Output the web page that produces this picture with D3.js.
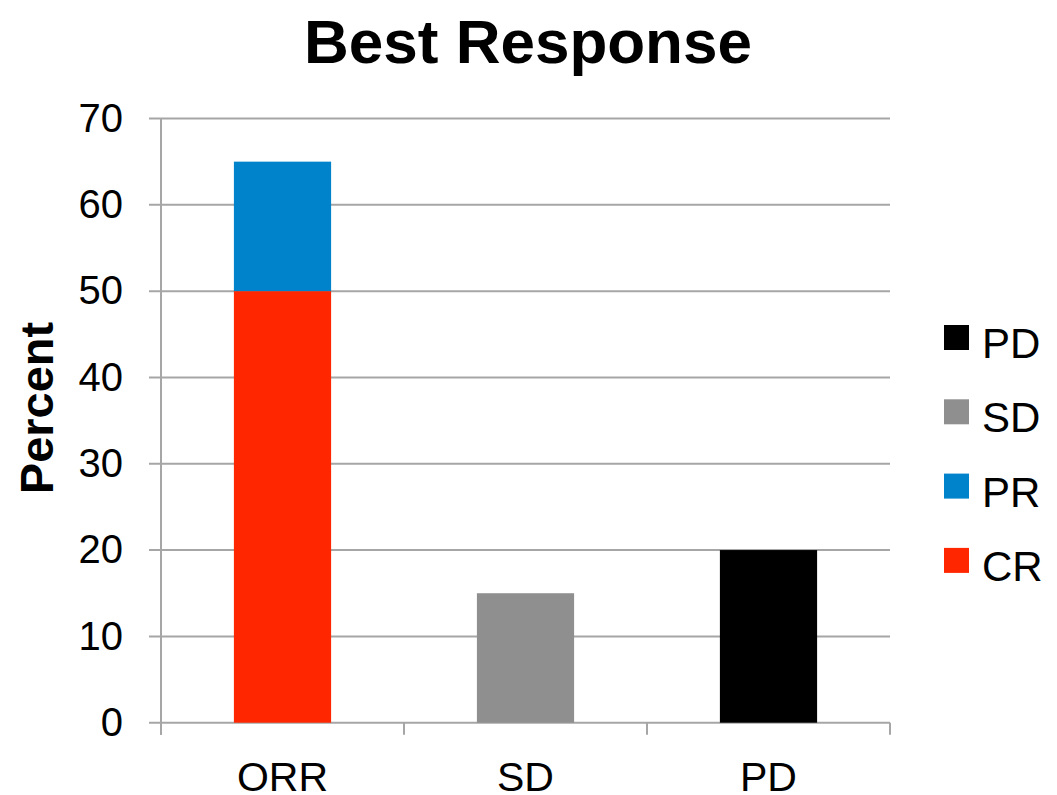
<!DOCTYPE html>
<html>
<head>
<meta charset="utf-8">
<script src="https://cdn.jsdelivr.net/npm/d3@7"></script>
<style>
  html, body { margin: 0; padding: 0; background: #fff; }
  svg { display: block; font-family: "Liberation Sans", Arial, sans-serif; }
</style>
</head>
<body>
<svg id="chart" width="1057" height="795"></svg>
<script>
// Best response categories and the stacked segments in each
const categories = ["ORR", "SD", "PD"];
const seriesNames = ["CR", "PR", "SD", "PD"];
const crValues = [50, 0, 0];
const prValues = [15, 0, 0];
const sdValues = [0, 15, 0];
const pdValues = [0, 0, 20];
const yTicks = [0, 10, 20, 30, 40, 50, 60, 70];
const colors = { CR: "#ff2600", PR: "#0083cb", SD: "#8f8f8f", PD: "#000000" };

const rows = categories.map((c, i) => ({
  category: c, CR: crValues[i], PR: prValues[i], SD: sdValues[i], PD: pdValues[i]
}));

const svg = d3.select("#chart");
const plot = { left: 161, right: 890, top: 118.5, bottom: 722.7 };
const gridColor = "#a6a6a6";

const x = d3.scaleBand()
  .domain(categories)
  .range([plot.left, plot.right])
  .paddingInner(0.6)
  .paddingOuter(0.3);

const y = d3.scaleLinear().domain([0, 70]).range([plot.bottom, plot.top]);

// Horizontal gridlines
svg.append("g")
  .selectAll("line")
  .data(yTicks)
  .join("line")
  .attr("x1", plot.left - 12)
  .attr("x2", plot.right)
  .attr("y1", d => y(d))
  .attr("y2", d => y(d))
  .attr("stroke", gridColor)
  .attr("stroke-width", 2);

// Y axis: labels and vertical line
const yAxis = svg.append("g")
  .attr("transform", `translate(${plot.left},0)`)
  .call(d3.axisLeft(y).tickValues(yTicks).tickSize(0).tickPadding(38));
yAxis.select(".domain").remove();
yAxis.selectAll("text").attr("font-size", 40).attr("fill", "#000")
  .attr("font-family", "'Liberation Sans', Arial, sans-serif");

svg.append("line")
  .attr("x1", plot.left).attr("x2", plot.left)
  .attr("y1", plot.top).attr("y2", plot.bottom + 12)
  .attr("stroke", gridColor).attr("stroke-width", 2);

// X axis category separators
const boundaries = d3.range(categories.length + 1).map(i => plot.left + i * x.step());
svg.append("g")
  .selectAll("line")
  .data(boundaries)
  .join("line")
  .attr("x1", d => d).attr("x2", d => d)
  .attr("y1", plot.bottom).attr("y2", plot.bottom + 12)
  .attr("stroke", gridColor).attr("stroke-width", 2);

// Stacked bars
const stacked = d3.stack().keys(seriesNames)(rows);
svg.append("g")
  .selectAll("g")
  .data(stacked)
  .join("g")
  .attr("fill", d => colors[d.key])
  .selectAll("rect")
  .data(d => d.filter(s => s[1] - s[0] > 0))
  .join("rect")
  .attr("x", d => x(d.data.category))
  .attr("width", x.bandwidth())
  .attr("y", d => y(d[1]))
  .attr("height", d => y(d[0]) - y(d[1]));

// X axis labels
const xAxis = svg.append("g")
  .attr("transform", `translate(0,${plot.bottom})`)
  .call(d3.axisBottom(x).tickSize(0).tickPadding(39));
xAxis.select(".domain").remove();
xAxis.selectAll("text").attr("font-size", 41).attr("fill", "#000")
  .attr("font-family", "'Liberation Sans', Arial, sans-serif");

// Title
svg.append("text")
  .attr("x", 528).attr("y", 63)
  .attr("text-anchor", "middle")
  .attr("font-size", 62).attr("font-weight", "bold")
  .text("Best Response");

// Y axis title
svg.append("text")
  .attr("transform", "translate(53,408) rotate(-90)")
  .attr("text-anchor", "middle")
  .attr("font-size", 47).attr("font-weight", "bold")
  .text("Percent");

// Legend (top to bottom: PD, SD, PR, CR)
const legendOrder = seriesNames.slice().reverse();
const legend = svg.append("g")
  .selectAll("g")
  .data(legendOrder)
  .join("g")
  .attr("transform", (d, i) => `translate(944,${337.5 + i * 74.3})`);
legend.append("rect")
  .attr("x", 0).attr("y", -12.5)
  .attr("width", 25).attr("height", 25)
  .attr("fill", d => colors[d]);
legend.append("text")
  .attr("x", 38).attr("y", 20.5)
  .attr("font-size", 42)
  .text(d => d);
</script>
</body>
</html>
